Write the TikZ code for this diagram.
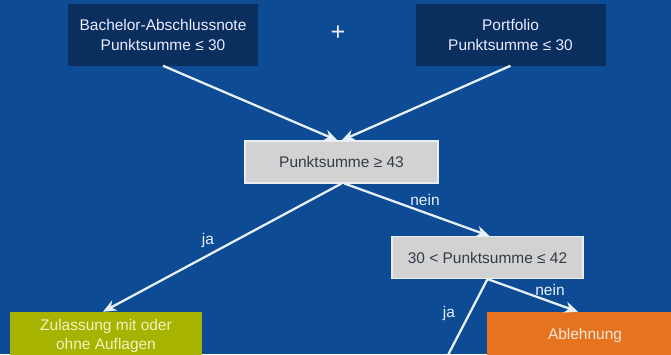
\documentclass[tikz,border=0pt]{standalone}
\usepackage{fontspec}
\setmainfont{Liberation Sans}
\usetikzlibrary{arrows.meta,calc}
\definecolor{bgblue}{HTML}{0D4B94}
\definecolor{navybox}{HTML}{0A2F5E}
\definecolor{graybox}{HTML}{D2D2D2}
\definecolor{grayedge}{HTML}{E9EEF3}
\definecolor{graytext}{HTML}{333D4A}
\definecolor{greenbox}{HTML}{A6B300}
\definecolor{greentext}{HTML}{F4F2C0}
\definecolor{orangebox}{HTML}{E6731F}
\definecolor{orangetext}{HTML}{F8E8DA}
\definecolor{linecol}{HTML}{E8F0FA}
\tikzset{
  basebox/.style={inner sep=0pt, align=center, font=\fontsize{11.6pt}{15pt}\selectfont},
  navynode/.style={basebox, fill=navybox, text=white!92!blue, minimum width=142.5pt, minimum height=46.5pt},
  graynode/.style={basebox, fill=graybox, draw=grayedge, line width=0.8pt, text=graytext},
  greennode/.style={basebox, fill=greenbox, text=greentext, minimum width=144pt, minimum height=36pt, font=\fontsize{11.6pt}{14.25pt}\selectfont},
  orangenode/.style={basebox, fill=orangebox, text=orangetext, minimum width=147pt, minimum height=34.5pt},
  conn/.style={draw=linecol, line width=1.7pt, -{Stealth[length=10pt,width=8.5pt]}},
  plainconn/.style={draw=linecol, line width=1.7pt},
  lbl/.style={text=linecol, inner sep=0pt, font=\fontsize{11.6pt}{14pt}\selectfont}
}
\begin{document}
\begin{tikzpicture}[x=0.75pt,y=-0.75pt]
\useasboundingbox (0,0) rectangle (671,354);
\clip (0,0) rectangle (671,354);
\fill[bgblue] (0,0) rectangle (671,354);

\node[navynode] (tl) at (163,34.5) {Bachelor-Abschlussnote\\Punktsumme ≤ 30};
\node[navynode] (tr) at (510.5,34.5) {Portfolio\\Punktsumme ≤ 30};
\node[text=white!92!blue, inner sep=0pt, font=\fontsize{19pt}{19pt}\selectfont] (plus) at (338,33) {+};

\node[graynode, minimum width=144.75pt, minimum height=31.5pt] (m1) at (341.5,162) {Punktsumme ≥ 43};
\node[graynode, minimum width=143.25pt, minimum height=31.5pt] (m2) at (487.5,257.5) {30 < Punktsumme ≤ 42};

\node[greennode] (ok) at (106,336) {Zulassung mit oder\\ohne Auflagen};
\node[orangenode] (no) at (585,335) {Ablehnung};

\coordinate (jaend) at (435,380);

\draw[conn] (tl.south) -- ($(m1.north)+(-4,0)$);
\draw[conn] (tr.south) -- ($(m1.north)+(0,0)$);
\draw[conn] (m1.south) -- ($(ok.north)+(-3,0)$);
\draw[conn] ($(m1.south)+(3,0)$) -- ($(m2.north)+(2,0)$);
\draw[conn] (m2.south) -- ($(no.north)+(-7,0)$);
\draw[plainconn] (m2.south) -- (jaend);

\node[lbl] (l1) at (208,240) {ja};
\node[lbl] (l2) at (425,200) {nein};
\node[lbl] (l3) at (550,290) {nein};
\node[lbl] (l4) at (449,313) {ja};
\end{tikzpicture}
\end{document}
